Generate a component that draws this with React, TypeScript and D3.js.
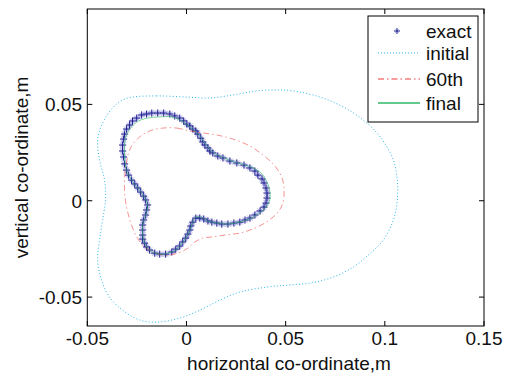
import * as d3 from 'd3';

// ─── Data (metres) ──────────────────────────────────────────

const exactX = [-0.0145, -0.0115, -0.0084, -0.0059, -0.0034, -0.0014, 0.0002, 0.0017, 0.0032, 0.0047, 0.0057, 0.0072, 0.0082, 0.0093, 0.0108, 0.0118, 0.0133, 0.0158, 0.0184, 0.0219, 0.0254, 0.029, 0.032, 0.0345, 0.036, 0.0381, 0.0391, 0.0401, 0.0406, 0.0406, 0.0401, 0.0391, 0.0371, 0.0345, 0.032, 0.0295, 0.0269, 0.0239, 0.0209, 0.0178, 0.0153, 0.0128, 0.0108, 0.0087, 0.0067, 0.0047, 0.0032, 0.0022, 0.0017, 0.0007, -0.0004, -0.0019, -0.0034, -0.0054, -0.0074, -0.0105, -0.0135, -0.016, -0.0186, -0.0201, -0.0211, -0.0221, -0.0221, -0.0221, -0.0221, -0.0216, -0.0206, -0.0201, -0.0196, -0.0206, -0.0216, -0.0231, -0.0246, -0.0261, -0.0277, -0.0292, -0.0302, -0.0312, -0.0317, -0.0322, -0.0322, -0.0317, -0.0312, -0.0302, -0.0287, -0.0272, -0.0251, -0.0226, -0.0201, -0.0175];
const exactY = [0.0455, 0.0455, 0.045, 0.044, 0.0429, 0.0414, 0.0398, 0.0388, 0.0372, 0.0362, 0.0346, 0.0325, 0.0305, 0.0289, 0.0274, 0.0258, 0.0248, 0.0232, 0.0222, 0.0206, 0.0196, 0.0185, 0.017, 0.0154, 0.0133, 0.0113, 0.0092, 0.0066, 0.004, 0.0014, -0.0012, -0.0033, -0.0053, -0.0074, -0.009, -0.01, -0.0111, -0.0116, -0.0121, -0.0121, -0.0116, -0.0111, -0.0105, -0.0095, -0.009, -0.009, -0.0111, -0.0131, -0.0152, -0.0173, -0.0194, -0.0214, -0.0235, -0.0251, -0.0266, -0.0277, -0.0277, -0.0272, -0.0256, -0.024, -0.022, -0.0199, -0.0178, -0.0152, -0.0126, -0.01, -0.0074, -0.0048, -0.0022, 0.0004, 0.0024, 0.0045, 0.0066, 0.0087, 0.0107, 0.0133, 0.0159, 0.0191, 0.0227, 0.0258, 0.0289, 0.032, 0.0346, 0.0372, 0.0393, 0.0414, 0.0429, 0.0445, 0.045, 0.0455];

const initialX = [-0.0271, -0.015, 0.0002, 0.0118, 0.0234, 0.0355, 0.0457, 0.0537, 0.0674, 0.079, 0.0891, 0.0977, 0.1043, 0.1063, 0.1063, 0.1043, 0.0992, 0.0927, 0.0841, 0.074, 0.0623, 0.0507, 0.0406, 0.0269, 0.0168, 0.0067, -0.0034, -0.015, -0.0236, -0.0322, -0.0388, -0.0428, -0.0448, -0.0438, -0.0423, -0.0408, -0.0413, -0.0438, -0.0448, -0.0423, -0.0373, -0.0322];
const initialY = [0.0538, 0.0544, 0.0538, 0.0533, 0.0549, 0.057, 0.0575, 0.057, 0.0538, 0.0487, 0.0419, 0.0331, 0.0211, 0.0107, 0.0004, -0.01, -0.0204, -0.0272, -0.0344, -0.0396, -0.0427, -0.0438, -0.0448, -0.0474, -0.0516, -0.0568, -0.0609, -0.063, -0.0619, -0.0568, -0.05, -0.0412, -0.0308, -0.0204, -0.01, 0.0004, 0.0107, 0.0211, 0.0315, 0.0403, 0.0481, 0.0523];

const iter60X = [-0.012, -0.0049, 0.0017, 0.0082, 0.0153, 0.0234, 0.032, 0.0386, 0.0446, 0.0482, 0.0492, 0.0487, 0.0462, 0.0411, 0.0345, 0.0269, 0.0194, 0.0128, 0.0082, 0.0042, 0.0007, -0.0044, -0.011, -0.017, -0.0221, -0.0256, -0.0282, -0.0302, -0.0312, -0.0312, -0.0302, -0.0282, -0.0236, -0.0186];
const iter60Y = [0.0377, 0.0377, 0.0362, 0.0352, 0.0341, 0.032, 0.0284, 0.0237, 0.018, 0.0118, 0.0056, -0.0007, -0.0059, -0.0105, -0.0142, -0.0168, -0.0178, -0.0188, -0.0194, -0.0214, -0.0246, -0.0272, -0.0282, -0.0266, -0.023, -0.0178, -0.0111, -0.0033, 0.0045, 0.0123, 0.0201, 0.0274, 0.0331, 0.0362];

const finalX = [-0.0135, -0.0074, -0.0024, 0.0017, 0.0052, 0.0082, 0.0108, 0.0138, 0.0189, 0.0259, 0.0325, 0.0376, 0.0406, 0.0421, 0.0416, 0.0381, 0.0325, 0.0269, 0.0209, 0.0153, 0.0108, 0.0072, 0.0047, 0.0032, 0.0017, -0.0004, -0.0034, -0.0074, -0.0135, -0.0186, -0.0211, -0.0221, -0.0221, -0.0206, -0.0196, -0.0216, -0.0246, -0.0277, -0.0302, -0.0312, -0.0312, -0.0302, -0.0277, -0.0241, -0.0196];
const finalY = [0.0435, 0.0435, 0.0414, 0.0383, 0.0352, 0.0315, 0.0279, 0.0248, 0.0222, 0.0196, 0.0175, 0.0144, 0.0097, 0.0045, -0.0007, -0.0053, -0.009, -0.0111, -0.0121, -0.0116, -0.0105, -0.0085, -0.0085, -0.0111, -0.0152, -0.0194, -0.0235, -0.0266, -0.0277, -0.0256, -0.022, -0.0178, -0.0126, -0.0074, -0.0022, 0.0024, 0.0066, 0.0107, 0.0159, 0.0227, 0.0289, 0.0341, 0.0383, 0.0414, 0.0429];

const xTicks = [-0.05, 0, 0.05, 0.1, 0.15];
const yTicks = [-0.05, 0, 0.05];
const xTickLabels = ['-0.05', '0', '0.05', '0.1', '0.15'];
const yTickLabels = ['-0.05', '0', '0.05'];
const legendLabels = ['exact', 'initial', '60th', 'final'];

// ─── Layout ─────────────────────────────────────────────────

const W = 505;
const H = 375;
const PLOT = { left: 87.3, right: 484, top: 9, bottom: 326 };
const FONT = '"Liberation Sans", Arial, Helvetica, sans-serif';
const TICK = 5;

const C_EXACT = '#1c1c8e';
const C_EXACT_LIGHT = '#a4a4e2';
const C_INITIAL = '#2ab8ec';
const C_60 = '#ee3a3a';
const C_FINAL = '#2fb866';

type Pt = [number, number];
const zip = (xs: number[], ys: number[]): Pt[] => xs.map((x, i) => [x, ys[i]]);

function Star({ cx, cy, r = 3.6 }: { cx: number; cy: number; r?: number }) {
  const d = r * 0.72;
  return (
    <g>
      <path
        d={`M${cx - d},${cy - d}L${cx + d},${cy + d}M${cx - d},${cy + d}L${cx + d},${cy - d}`}
        stroke={C_EXACT_LIGHT}
        strokeWidth={1}
        opacity={0.75}
      />
      <path
        d={`M${cx - r},${cy}L${cx + r},${cy}M${cx},${cy - r}L${cx},${cy + r}`}
        stroke={C_EXACT}
        strokeWidth={1}
      />
    </g>
  );
}

export default function App() {
  const x = d3.scaleLinear().domain([-0.05, 0.15]).range([PLOT.left, PLOT.right]);
  const y = d3.scaleLinear().domain([-0.065, 0.0995]).range([PLOT.bottom, PLOT.top]);

  const line = d3
    .line<Pt>()
    .x((d) => x(d[0]))
    .y((d) => y(d[1]))
    .curve(d3.curveCatmullRomClosed.alpha(0.5));

  const exact = zip(exactX, exactY);
  const initial = zip(initialX, initialY);
  const iter60 = zip(iter60X, iter60Y);
  const fin = zip(finalX, finalY);

  const legendRows = [31, 53, 79, 103];

  return (
    <svg
      width={W}
      height={H}
      style={{ position: 'absolute', left: 0, top: 0, background: '#fff' }}
      fontFamily={FONT}
    >
      <rect x={0} y={0} width={W} height={H} fill="#fff" />

      {/* exact: faint band + star markers */}
      <path d={line(exact) ?? ''} fill="none" stroke="#c8c8f0" strokeWidth={5} opacity={0.7} />
      {exact.map((p, i) => (
        <Star key={i} cx={x(p[0])} cy={y(p[1])} />
      ))}

      {/* initial */}
      <path
        d={line(initial) ?? ''}
        fill="none"
        stroke={C_INITIAL}
        strokeWidth={1}
        strokeDasharray="1 2.2"
      />

      {/* 60th iteration */}
      <path
        d={line(iter60) ?? ''}
        fill="none"
        stroke={C_60}
        strokeOpacity={0.55}
        strokeWidth={1}
        strokeDasharray="6 3 1.5 3"
      />

      {/* final */}
      <path d={line(fin) ?? ''} fill="none" stroke={C_FINAL} strokeOpacity={0.6} strokeWidth={1} />

      {/* axes box */}
      <rect
        x={PLOT.left}
        y={PLOT.top}
        width={PLOT.right - PLOT.left}
        height={PLOT.bottom - PLOT.top}
        fill="none"
        stroke="#000"
        strokeWidth={1}
      />

      {xTicks.map((t, i) => (
        <g key={`xt${i}`}>
          <line x1={x(t)} x2={x(t)} y1={PLOT.bottom} y2={PLOT.bottom - TICK} stroke="#000" />
          <line x1={x(t)} x2={x(t)} y1={PLOT.top} y2={PLOT.top + TICK} stroke="#000" />
          <text x={x(t)} y={345} fontSize={19} textAnchor="middle" fill="#111">
            {xTickLabels[i]}
          </text>
        </g>
      ))}
      {yTicks.map((t, i) => (
        <g key={`yt${i}`}>
          <line x1={PLOT.left} x2={PLOT.left + TICK} y1={y(t)} y2={y(t)} stroke="#000" />
          <line x1={PLOT.right} x2={PLOT.right - TICK} y1={y(t)} y2={y(t)} stroke="#000" />
          <text x={82} y={y(t)} dy="0.36em" fontSize={19} textAnchor="end" fill="#111">
            {yTickLabels[i]}
          </text>
        </g>
      ))}

      <text x={289} y={370} fontSize={19} textAnchor="middle" fill="#111">
        horizontal co-ordinate,m
      </text>
      <text
        transform={`translate(28,${(PLOT.top + PLOT.bottom) / 2}) rotate(-90)`}
        fontSize={19}
        textAnchor="middle"
        fill="#111"
      >
        vertical co-ordinate,m
      </text>

      {/* legend */}
      <rect x={368} y={16} width={110} height={106} fill="#fff" stroke="#000" strokeWidth={1} />
      <Star cx={397} cy={legendRows[0]} r={3} />
      <line x1={378} x2={420} y1={legendRows[1]} y2={legendRows[1]} stroke={C_INITIAL} strokeDasharray="1 2" />
      <line x1={378} x2={420} y1={legendRows[2]} y2={legendRows[2]} stroke={C_60} strokeDasharray="6 3 1.5 3" />
      <line x1={378} x2={420} y1={legendRows[3]} y2={legendRows[3]} stroke={C_FINAL} strokeWidth={1.5} />
      {legendLabels.map((l, i) => (
        <text key={l} x={426} y={legendRows[i]} dy="0.36em" fontSize={19} fill="#111">
          {l}
        </text>
      ))}
    </svg>
  );
}
